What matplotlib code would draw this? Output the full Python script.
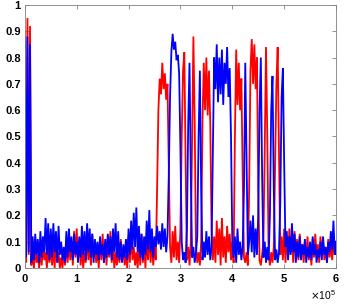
import numpy as np
import matplotlib
matplotlib.use("Agg")
import matplotlib.pyplot as plt
from matplotlib.ticker import ScalarFormatter, MultipleLocator

# sample spacing of the signals (x units)
sample_step = 2500

red_y = [
    0.9, 0.02, 0.95, 0.05, 0.92,
    0.01, 0.06, 0.0, 0.08, 0.02, 0.05, 0.0, 0.07, 0.01, 0.09, 0.03,
    0.06, 0.0, 0.08, 0.02,
    0.1, 0.01, 0.08, 0.0, 0.12, 0.02, 0.06, 0.0,
    0.04, 0.0, 0.06, 0.01,
    0.09, 0.02, 0.12, 0.03, 0.1, 0.01, 0.14, 0.04,
    0.15, 0.03, 0.11, 0.01, 0.08, 0.0, 0.06, 0.02,
    0.12, 0.03, 0.09, 0.01, 0.13, 0.04, 0.1, 0.02,
    0.08, 0.0, 0.11, 0.03, 0.13, 0.02, 0.1, 0.01,
    0.12, 0.04, 0.14, 0.02, 0.09, 0.0, 0.06, 0.01,
    0.08, 0.02, 0.11, 0.03, 0.07, 0.01, 0.05, 0.0,
    0.12, 0.02, 0.14, 0.03, 0.08, 0.01, 0.06, 0.0,
    0.1, 0.01, 0.13, 0.02, 0.09, 0.0, 0.12, 0.03,
    0.14, 0.02, 0.11, 0.01, 0.08, 0.03,
    0.3, 0.6, 0.72, 0.66, 0.78, 0.68, 0.74, 0.64, 0.7, 0.4, 0.08,
    0.02, 0.14, 0.04, 0.16, 0.03, 0.1, 0.02,
    0.15, 0.5, 0.75, 0.82, 0.4, 0.03, 0.08, 0.01, 0.1, 0.5, 0.88, 0.55,
    0.08, 0.02, 0.06, 0.01, 0.1, 0.55, 0.78, 0.6, 0.8, 0.58, 0.75, 0.55, 0.15,
    0.03, 0.12, 0.02, 0.18, 0.05, 0.15, 0.01, 0.19, 0.04, 0.12, 0.02, 0.16,
    0.06, 0.13, 0.03, 0.1, 0.02,
    0.5, 0.83, 0.62, 0.78, 0.6, 0.72, 0.35, 0.04, 0.02, 0.06, 0.01,
    0.3, 0.75, 0.87, 0.7, 0.85, 0.68, 0.8, 0.3, 0.03, 0.01, 0.05, 0.1,
    0.45, 0.84, 0.5, 0.05, 0.01, 0.06, 0.02, 0.08, 0.4, 0.7, 0.84, 0.45,
    0.05, 0.12, 0.03, 0.15, 0.02,
    0.12, 0.04, 0.15, 0.06, 0.1, 0.02, 0.14, 0.05, 0.11, 0.03,
    0.13, 0.06, 0.09, 0.02, 0.1, 0.04, 0.12, 0.03, 0.08, 0.01,
    0.11, 0.04, 0.13, 0.05, 0.09, 0.02, 0.12, 0.06, 0.1, 0.03,
    0.08, 0.02, 0.11, 0.04, 0.09, 0.03, 0.12, 0.05, 0.1,
]

blue_y = [
    0.86, 0.04, 0.88, 0.06, 0.85,
    0.02, 0.12, 0.03, 0.13, 0.05, 0.11, 0.02, 0.14, 0.04, 0.12, 0.06,
    0.19, 0.05, 0.17, 0.03,
    0.15, 0.04, 0.17, 0.06, 0.14, 0.02, 0.16, 0.05,
    0.1, 0.03, 0.08, 0.02,
    0.14, 0.04, 0.15, 0.06, 0.12, 0.03, 0.13, 0.05,
    0.1, 0.02, 0.12, 0.04, 0.16, 0.05, 0.14, 0.03,
    0.17, 0.06, 0.15, 0.04, 0.13, 0.02, 0.11, 0.05,
    0.1, 0.03, 0.12, 0.05, 0.09, 0.02, 0.11, 0.04,
    0.13, 0.05, 0.12, 0.03, 0.15, 0.06, 0.17, 0.04,
    0.14, 0.03, 0.1, 0.02, 0.09, 0.04, 0.11, 0.03,
    0.15, 0.05, 0.18, 0.07, 0.21, 0.08, 0.23, 0.06,
    0.16, 0.04, 0.13, 0.03, 0.12, 0.05, 0.18, 0.07,
    0.22, 0.06, 0.15, 0.04, 0.12, 0.08, 0.16, 0.09,
    0.14, 0.07, 0.17, 0.08, 0.15, 0.06, 0.12,
    0.35, 0.65, 0.82, 0.89, 0.83, 0.86, 0.79, 0.81, 0.74, 0.45, 0.1,
    0.03, 0.06, 0.02, 0.15, 0.55, 0.78, 0.35, 0.04, 0.08, 0.02, 0.06,
    0.12, 0.5, 0.75, 0.3, 0.03,
    0.1, 0.04, 0.14, 0.05, 0.12, 0.03, 0.08,
    0.45, 0.8, 0.68, 0.85, 0.63, 0.8, 0.66, 0.83, 0.62, 0.78, 0.7, 0.84,
    0.65, 0.76, 0.5, 0.1,
    0.04, 0.12, 0.02, 0.15, 0.05, 0.1, 0.03, 0.08,
    0.3, 0.78, 0.4, 0.05,
    0.1, 0.18, 0.06, 0.2, 0.04, 0.15, 0.05,
    0.2, 0.6, 0.8, 0.35, 0.04, 0.1, 0.02, 0.08, 0.03,
    0.2, 0.6, 0.73, 0.3, 0.03, 0.07, 0.02, 0.06,
    0.25, 0.65, 0.76, 0.4, 0.08,
    0.14, 0.03, 0.12, 0.05, 0.17, 0.06, 0.13, 0.02, 0.1, 0.04,
    0.12, 0.03, 0.09, 0.05, 0.11, 0.02, 0.08, 0.04, 0.1, 0.03,
    0.12, 0.05, 0.09, 0.02, 0.07, 0.04, 0.1, 0.03, 0.12, 0.05,
    0.08, 0.02, 0.1, 0.06, 0.14, 0.07, 0.18, 0.05, 0.1,
]

if len(red_y) != 241 or len(blue_y) != 241:
    raise SystemExit(f"lengths red={len(red_y)} blue={len(blue_y)}")

x_red = np.arange(len(red_y)) * sample_step
x_blue = np.arange(len(blue_y)) * sample_step

plt.rcParams['font.family'] = ['Liberation Sans', 'DejaVu Sans']

fig = plt.figure(figsize=(3.45, 3.07), dpi=100)
ax = fig.add_axes([0.072, 0.127, 0.902, 0.857])

ax.plot(x_red, red_y, color=(1, 0, 0), lw=1.3, solid_joinstyle='miter')
ax.plot(x_blue, blue_y, color=(0, 0, 1), lw=1.3, solid_joinstyle='miter')

ax.set_xlim(0, 6e5)
ax.set_ylim(0, 1)
ax.xaxis.set_major_locator(MultipleLocator(1e5))
fmt = ScalarFormatter(useMathText=True)
fmt.set_powerlimits((0, 0))
ax.xaxis.set_major_formatter(fmt)
ax.set_yticks(np.arange(0, 1.01, 0.1))
ax.set_yticklabels(['0', '0.1', '0.2', '0.3', '0.4', '0.5', '0.6', '0.7', '0.8', '0.9', '1'])

ax.tick_params(direction='in', length=3, width=0.6, top=True, right=True,
               labelsize=8, colors='#808080', labelcolor='black', pad=3)
for lab in ax.get_xticklabels() + ax.get_yticklabels():
    lab.set_fontweight('bold')
for s in ax.spines.values():
    s.set_color('#808080')
    s.set_linewidth(0.6)
ax.xaxis.get_offset_text().set_fontsize(7.5)

fig.savefig("out.png", dpi=100)
